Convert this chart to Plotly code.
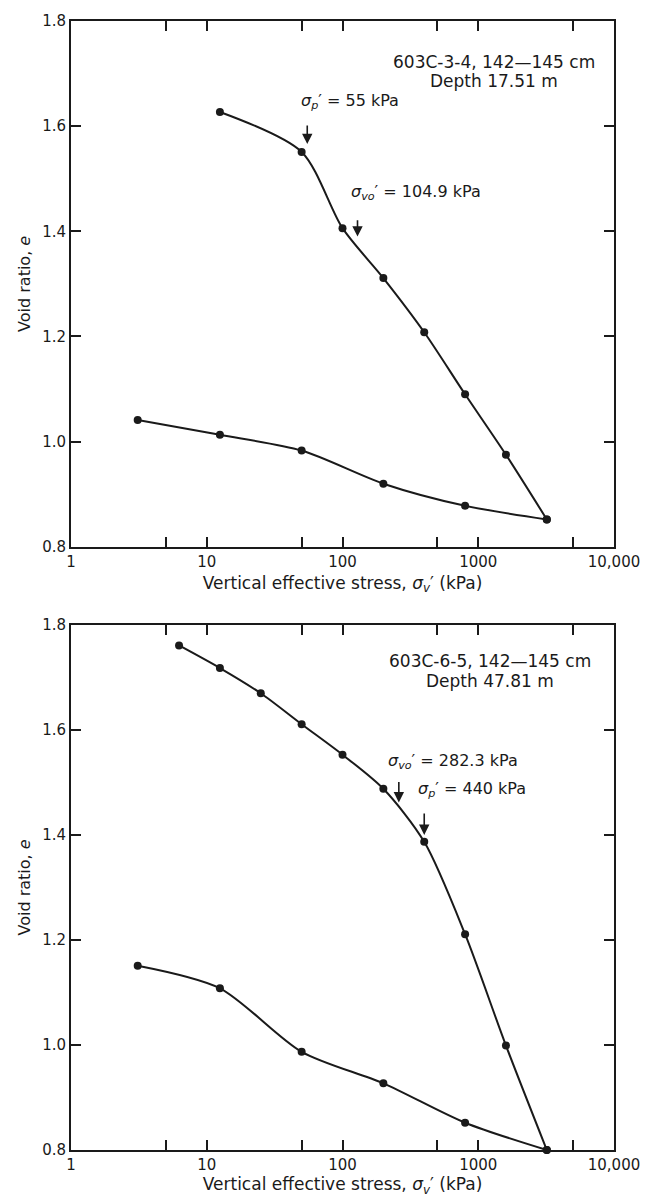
import numpy as np
import plotly.graph_objects as go
from plotly.subplots import make_subplots

# ---- Data: 603C-3-4 (top) ----
top_load_x = [12.5, 50, 100, 200, 400, 800, 1600, 3200]
top_load_e = [1.627, 1.551, 1.406, 1.311, 1.208, 1.090, 0.975, 0.852]
top_unload_x = [3200, 800, 200, 50, 12.5, 3.1]
top_unload_e = [0.852, 0.878, 0.920, 0.983, 1.013, 1.041]

# ---- Data: 603C-6-5 (bottom) ----
bot_load_x = [6.25, 12.5, 25, 50, 100, 200, 400, 800, 1600, 3200]
bot_load_e = [1.761, 1.718, 1.670, 1.611, 1.553, 1.488, 1.387, 1.211, 0.999, 0.800]
bot_unload_x = [3200, 800, 200, 50, 12.5, 3.1]
bot_unload_e = [0.800, 0.852, 0.927, 0.987, 1.108, 1.151]

x_tickvals = [1, 5, 10, 50, 100, 500, 1000, 5000, 10000]
x_ticktext = ["1", "", "10", "", "100", "", "1000", "", "10,000"]
y_tickvals = [0.8, 1.0, 1.2, 1.4, 1.6, 1.8]
y_ticktext = ["0.8", "1.0", "1.2", "1.4", "1.6", "1.8"]

FONT = "DejaVu Sans, Liberation Sans, Arial, sans-serif"
INK = "#1a1a1a"

fig = make_subplots(rows=2, cols=1, vertical_spacing=0.0)

line_style = dict(color=INK, width=2, shape="spline", smoothing=0.8)
marker_style = dict(color=INK, size=8)

for row, (lx, le, ux, ue) in enumerate([
    (top_load_x, top_load_e, top_unload_x, top_unload_e),
    (bot_load_x, bot_load_e, bot_unload_x, bot_unload_e),
], start=1):
    fig.add_trace(go.Scatter(x=lx, y=le, mode="lines+markers", line=line_style,
                             marker=marker_style, cliponaxis=False, showlegend=False), row=row, col=1)
    fig.add_trace(go.Scatter(x=ux, y=ue, mode="lines+markers", line=line_style,
                             marker=marker_style, cliponaxis=False, showlegend=False), row=row, col=1)

axis_common = dict(showline=True, linewidth=2, linecolor=INK, mirror="ticks",
                   ticks="inside", ticklen=10, tickwidth=1.5, tickcolor=INK,
                   showgrid=False, zeroline=False,
                   tickfont=dict(family=FONT, size=15, color=INK))

xtitle = "Vertical effective stress, <i>σ</i><sub><i>v</i></sub>′ (kPa)"
for r, dom in [(1, [0.5343, 1.0]), (2, [0.0, 0.4650])]:
    fig.update_xaxes(type="log", range=[0, 4], tickvals=x_tickvals, ticktext=x_ticktext,
                     title=dict(text=xtitle, font=dict(family=FONT, size=17, color=INK),
                                standoff=7 if r == 1 else 2),
                     row=r, col=1, **axis_common)
    fig.update_yaxes(range=[0.8, 1.8], tickvals=y_tickvals, ticktext=y_ticktext, domain=dom,
                     title=dict(text="Void ratio, <i>e</i>", font=dict(family=FONT, size=16, color=INK),
                                standoff=8),
                     row=r, col=1, **axis_common)

def txt(xref, yref, x, y, text, anchor="left", size=16):
    fig.add_annotation(xref=xref, yref=yref, x=np.log10(x), y=y, text=text, showarrow=False,
                       xanchor=anchor, yanchor="middle",
                       font=dict(family=FONT, size=size, color=INK))

def arrow(xref, yref, x, y_tail, y_head):
    fig.add_annotation(xref=xref, yref=yref, axref=xref, ayref=yref,
                       x=np.log10(x), y=y_head, ax=np.log10(x), ay=y_tail, text="",
                       showarrow=True, arrowhead=2, arrowsize=1.3, arrowwidth=1.6, arrowcolor=INK)

# Top panel annotations
txt("x", "y", 1310, 1.722, "603C-3-4, 142—145 cm", anchor="center", size=17)
txt("x", "y", 1310, 1.685, "Depth 17.51 m", anchor="center", size=17)
txt("x", "y", 48, 1.646, "<i>σ</i><sub><i>p</i></sub>′ = 55 kPa")
arrow("x", "y", 55, 1.604, 1.566)
txt("x", "y", 112, 1.474, "<i>σ</i><sub><i>vo</i></sub>′ = 104.9 kPa")
arrow("x", "y", 129, 1.424, 1.390)

# Bottom panel annotations
txt("x2", "y2", 1227, 1.731, "603C-6-5, 142—145 cm", anchor="center", size=17)
txt("x2", "y2", 1227, 1.693, "Depth 47.81 m", anchor="center", size=17)
txt("x2", "y2", 208, 1.540, "<i>σ</i><sub><i>vo</i></sub>′ = 282.3 kPa")
arrow("x2", "y2", 260, 1.504, 1.462)
txt("x2", "y2", 350, 1.487, "<i>σ</i><sub><i>p</i></sub>′ = 440 kPa")
arrow("x2", "y2", 400, 1.444, 1.400)

fig.update_layout(width=652, height=1203, margin=dict(l=71, r=28, t=14, b=53),
                  plot_bgcolor="white", paper_bgcolor="white",
                  font=dict(family=FONT, color=INK))

fig.write_html("out.html")
